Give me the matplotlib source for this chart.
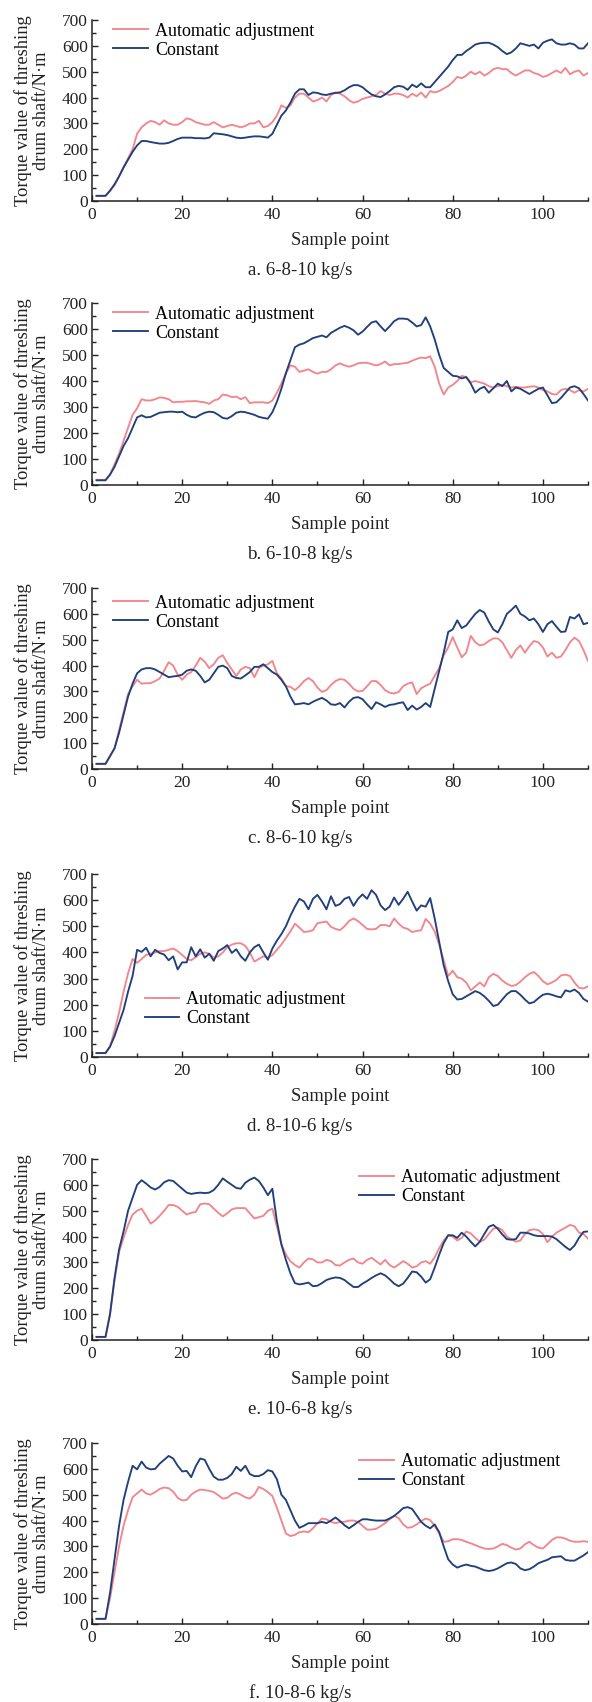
import numpy as np
import matplotlib
matplotlib.use("Agg")
import matplotlib.pyplot as plt
from matplotlib.ticker import MultipleLocator

plt.rcParams["font.family"] = ["Liberation Serif", "DejaVu Serif"]

# sample index 1..110
x = np.arange(1, 111)

a_auto = [20, 20, 20, 40, 60, 95, 130, 165, 200, 260,
          285, 300, 310, 305, 295, 312, 300, 295, 295, 305,
          320, 315, 305, 300, 295, 295, 305, 295, 285, 290,
          295, 290, 285, 290, 300, 300, 310, 285, 290, 305,
          330, 370, 360, 370, 400, 415, 415, 400, 385, 390,
          400, 385, 410, 420, 415, 405, 390, 380, 385, 395,
          400, 405, 410, 425, 415, 410, 415, 415, 410, 400,
          415, 405, 420, 400, 425, 420, 425, 435, 445, 460,
          480, 475, 485, 500, 490, 500, 485, 495, 510, 515,
          510, 510, 495, 485, 495, 505, 505, 495, 490, 480,
          485, 495, 505, 495, 515, 490, 500, 505, 485, 495]
a_const = [20, 20, 20, 40, 65, 95, 130, 160, 190, 215,
           232, 232, 228, 225, 222, 222, 225, 232, 240, 245,
           245, 245, 243, 243, 242, 245, 262, 260, 258, 255,
           250, 245, 243, 245, 248, 250, 250, 248, 245, 260,
           295, 330, 350, 380, 415, 432, 432, 410, 420, 418,
           412, 410, 415, 418, 420, 428, 440, 448, 448, 440,
           425, 412, 405, 402, 412, 425, 440, 445, 442, 430,
           450, 440, 455, 440, 440, 460, 480, 500, 520, 545,
           565, 565, 580, 592, 605, 610, 612, 612, 605, 595,
           580, 568, 575, 590, 610, 605, 600, 605, 590, 612,
           620, 625, 610, 605, 605, 610, 605, 590, 590, 610]

b_auto = [20, 20, 20, 40, 80, 120, 170, 220, 270, 295,
          330, 325, 325, 330, 337, 335, 330, 318, 320, 320,
          322, 322, 323, 320, 318, 312, 325, 330, 348, 345,
          338, 340, 330, 338, 315, 318, 318, 318, 315, 325,
          355, 390, 430, 460, 455, 435, 440, 445, 435, 428,
          435, 435, 445, 460, 468, 460, 455, 460, 468, 470,
          470, 465, 460, 465, 475, 460, 465, 465, 468, 470,
          478, 485, 490, 488, 495, 455, 390, 348, 375, 385,
          400, 420, 415, 395, 400, 395, 390, 380, 375, 380,
          385, 380, 375, 378, 375, 375, 378, 380, 375, 365,
          360, 350, 348, 365, 370, 365, 355, 365, 360, 370]
b_const = [18, 18, 18, 40, 70, 110, 150, 180, 220, 260,
           268, 260, 262, 270, 278, 280, 282, 282, 280, 282,
           270, 262, 260, 270, 278, 282, 280, 270, 258, 255,
           265, 278, 282, 280, 275, 270, 262, 258, 255, 280,
           320, 370, 430, 480, 530, 540, 545, 555, 565, 570,
           575, 568, 585, 595, 605, 612, 605, 595, 578, 590,
           608, 625, 630, 610, 592, 610, 630, 640, 640, 638,
           625, 610, 615, 645, 610, 560, 500, 450, 435, 420,
           418, 410, 415, 390, 355, 370, 378, 355, 372, 390,
           380, 400, 360, 375, 370, 360, 350, 360, 370, 375,
           345, 315, 318, 335, 355, 375, 380, 372, 350, 325]

c_auto = [20, 20, 20, 50, 80, 150, 220, 290, 320, 345,
          330, 332, 332, 340, 350, 380, 413, 400, 365, 345,
          365, 375, 400, 430, 415, 390, 405, 430, 440, 410,
          385, 360, 385, 395, 390, 355, 390, 400, 405, 418,
          370, 350, 320, 318, 305, 320, 340, 352, 340, 315,
          298, 305, 325, 340, 348, 345, 330, 310, 300, 302,
          320, 340, 340, 325, 305, 295, 292, 298, 320, 330,
          335, 290, 312, 322, 330, 360, 390, 440, 470, 510,
          470, 432, 450, 515, 490, 478, 482, 495, 505, 505,
          490, 460, 430, 460, 478, 450, 475, 495, 490, 470,
          435, 450, 430, 435, 460, 490, 508, 495, 460, 418]
c_const = [20, 20, 20, 50, 80, 140, 210, 280, 330, 370,
           385, 390, 390, 385, 375, 365, 355, 358, 360, 365,
           380, 385, 380, 360, 335, 345, 370, 395, 400, 390,
           360, 352, 350, 362, 375, 395, 395, 405, 390, 375,
           365, 345, 320, 280, 250, 252, 255, 250, 260, 268,
           275, 265, 250, 248, 255, 238, 260, 275, 278, 270,
           250, 232, 258, 250, 240, 248, 250, 255, 258, 228,
           245, 230, 240, 255, 240, 310, 380, 450, 530, 540,
           575, 545, 555, 578, 600, 615, 605, 570, 540, 528,
           560, 600, 615, 632, 600, 590, 575, 582, 560, 530,
           560, 572, 550, 530, 532, 588, 582, 598, 560, 565]

d_auto = [15, 15, 15, 40, 100, 170, 250, 320, 375, 360,
          375, 390, 395, 400, 405, 405, 410, 415, 405, 390,
          375, 370, 382, 395, 400, 395, 380, 385, 400, 420,
          430, 435, 435, 425, 400, 365, 375, 385, 380, 390,
          410, 430, 455, 480, 510, 495, 478, 480, 485, 512,
          515, 518, 498, 490, 485, 500, 520, 530, 520, 505,
          490, 488, 490, 505, 505, 500, 530, 510, 495, 490,
          478, 482, 485, 528, 510, 480, 430, 370, 310, 330,
          305, 300, 285, 255, 270, 285, 270, 305, 318, 310,
          292, 280, 272, 275, 288, 305, 318, 325, 310, 290,
          278, 285, 295, 312, 315, 310, 285, 265, 262, 270]
d_const = [15, 15, 15, 40, 80, 130, 180, 250, 310, 410,
           402, 418, 385, 410, 398, 392, 370, 385, 335, 362,
           362, 420, 385, 412, 380, 395, 368, 405, 415, 428,
           398, 412, 385, 368, 400, 420, 430, 400, 372, 415,
           445, 470, 500, 540, 575, 605, 595, 565, 605, 620,
           595, 565, 615, 578, 585, 605, 612, 578, 605, 622,
           605, 638, 620, 580, 562, 575, 610, 582, 605, 632,
           595, 560, 580, 575, 608, 530, 440, 350, 290, 240,
           220, 222, 232, 242, 252, 245, 232, 215, 195, 200,
           220, 240, 252, 252, 238, 220, 205, 210, 225, 238,
           242, 238, 232, 228, 255, 250, 258, 245, 222, 212]

e_auto = [12, 12, 12, 100, 230, 340, 395, 445, 485, 500,
          508, 480, 450, 462, 480, 500, 522, 522, 515, 500,
          485, 492, 495, 525, 528, 525, 508, 492, 478, 490,
          505, 510, 510, 510, 490, 470, 475, 480, 500, 508,
          440, 370, 330, 305, 290, 280, 300, 315, 312, 300,
          300, 310, 305, 290, 288, 300, 310, 315, 300, 295,
          310, 318, 305, 292, 310, 290, 280, 292, 305, 295,
          280, 285, 300, 305, 295, 320, 355, 385, 405, 400,
          385, 395, 420, 412, 395, 380, 388, 410, 430, 435,
          425, 400, 390, 380, 385, 410, 425, 428, 425, 410,
          378, 400, 415, 425, 435, 445, 440, 415, 410, 392]
e_const = [12, 12, 12, 100, 240, 350, 420, 500, 550, 600,
           618, 605, 590, 582, 592, 610, 618, 615, 600, 585,
           570, 565, 568, 570, 568, 570, 580, 600, 625, 612,
           600, 588, 585, 608, 620, 628, 615, 590, 560, 585,
           460, 370, 310, 258, 220, 215, 218, 222, 208, 210,
           220, 232, 238, 242, 240, 232, 218, 205, 205, 218,
           228, 240, 250, 258, 250, 235, 218, 208, 218, 240,
           265, 262, 245, 222, 235, 280, 330, 375, 405, 405,
           395, 415, 400, 380, 362, 380, 410, 438, 445, 430,
           408, 390, 388, 390, 415, 415, 412, 405, 402, 402,
           402, 400, 390, 375, 360, 348, 365, 395, 418, 420]

f_auto = [20, 20, 20, 100, 200, 300, 380, 440, 490, 505,
          520, 505, 500, 510, 522, 528, 525, 512, 488, 478,
          480, 500, 512, 520, 518, 515, 510, 498, 485, 488,
          502, 508, 500, 490, 485, 500, 530, 522, 510, 495,
          450, 400, 350, 340, 345, 355, 358, 355, 370, 390,
          408, 405, 395, 390, 395, 395, 400, 400, 395, 380,
          365, 365, 368, 378, 390, 405, 418, 410, 385, 372,
          375, 385, 398, 408, 402, 380, 350, 318, 320, 328,
          328, 325, 318, 312, 305, 298, 292, 290, 292, 300,
          310, 305, 295, 288, 292, 308, 318, 305, 295, 292,
          308, 325, 335, 335, 330, 322, 318, 318, 320, 318]
f_const = [20, 20, 20, 120, 250, 380, 480, 550, 612, 598,
           628, 605, 598, 600, 620, 635, 650, 640, 612, 590,
           592, 568, 610, 640, 635, 600, 570, 558, 558, 565,
           580, 608, 592, 612, 580, 572, 572, 580, 595, 590,
           560, 500, 480, 440, 400, 372, 380, 390, 390, 390,
           395, 390, 400, 412, 398, 382, 370, 382, 395, 405,
           405, 402, 400, 400, 400, 408, 418, 432, 448, 452,
           445, 420, 395, 380, 370, 385, 355, 300, 250, 230,
           218, 225, 230, 225, 222, 215, 208, 205, 208, 215,
           225, 235, 238, 232, 215, 208, 212, 222, 235, 242,
           248, 258, 260, 262, 248, 245, 245, 255, 265, 278]

captions = ["a. 6-8-10 kg/s", "b. 6-10-8 kg/s", "c. 8-6-10 kg/s",
            "d. 8-10-6 kg/s", "e. 10-6-8 kg/s", "f. 10-8-6 kg/s"]
series = [(a_auto, a_const), (b_auto, b_const), (c_auto, c_const),
          (d_auto, d_const), (e_auto, e_const), (f_auto, f_const)]

W, H = 592, 1702
RED = "#f2868c"
BLUE = "#203f7c"
TXT = "#222222"

# pixel layout per panel: axes top/bottom; legend anchor (x, y) in axes fraction
axes_px = [(20, 201), (303, 485), (588, 769), (874, 1057), (1159, 1340), (1443, 1624)]
leg_pos = [(0.043, 0.985), (0.043, 0.985), (0.043, 0.963),
           (0.106, 0.36), (0.539, 0.9425), (0.539, 0.9445)]

fig = plt.figure(figsize=(W / 100, H / 100), dpi=100)
fig.patch.set_facecolor("white")
L, R = 92, 588
FS = 13

for i, ((auto, const), (top, bot)) in enumerate(zip(series, axes_px)):
    ax = fig.add_axes([L / W, 1 - bot / H, (R - L) / W, (bot - top) / H])
    ax.plot(x, auto, color=RED, lw=1.35, label="Automatic adjustment")
    ax.plot(x, const, color=BLUE, lw=1.35, label="Constant")
    ax.set_xlim(0, 110)
    ax.set_ylim(0, 700)
    ax.xaxis.set_major_locator(MultipleLocator(20))
    ax.xaxis.set_minor_locator(MultipleLocator(10))
    ax.yaxis.set_major_locator(MultipleLocator(100))
    ax.yaxis.set_minor_locator(MultipleLocator(50))
    ax.tick_params(which="both", direction="in", colors=TXT, labelsize=12.5)
    ax.tick_params(which="major", length=4, width=1)
    ax.tick_params(which="minor", length=3, width=1)
    ax.tick_params(axis="x", pad=4)
    ax.tick_params(axis="y", pad=3)
    for s in ("top", "right"):
        ax.spines[s].set_visible(False)
    for s in ("left", "bottom"):
        ax.spines[s].set_linewidth(1.1)
        ax.spines[s].set_color(TXT)
    # x label and caption placed by baseline, below the axes
    fig.text((L + R) / 2 / W, 1 - (bot + 44) / H, "Sample point", ha="center",
             va="baseline", fontsize=13.3, color=TXT)
    fig.text(300 / W, 1 - (bot + 74) / H, captions[i], ha="center", va="baseline",
             fontsize=13.6, color=TXT)
    fig.text(32 / W, 1 - (top + bot) / 2 / H, "Torque value of threshing\ndrum shaft/N·m",
             rotation=90, ha="center", va="center", fontsize=13.3, color=TXT,
             linespacing=1.05, multialignment="center")
    ax.legend(loc="upper left", bbox_to_anchor=leg_pos[i], frameon=False,
              fontsize=FS, handlelength=1.9, handletextpad=0.4,
              labelspacing=0.1, borderpad=0, borderaxespad=0)

fig.savefig("out.png", dpi=100, facecolor="white")
